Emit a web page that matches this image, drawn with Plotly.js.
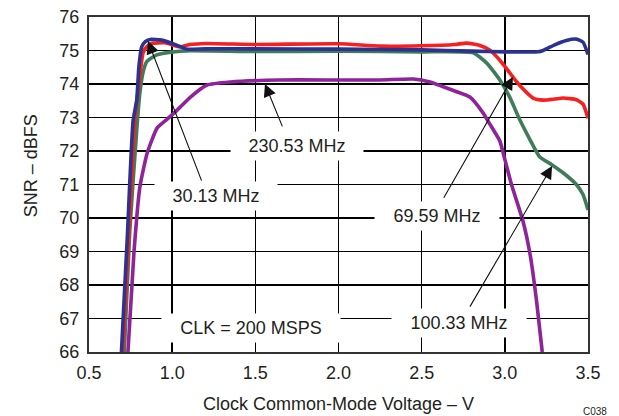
<!DOCTYPE html>
<html>
<head>
<meta charset="utf-8">
<script src="https://cdn.plot.ly/plotly-3.0.1.min.js"></script>
<style>html,body{margin:0;padding:0;background:#fff;}#chart{width:619px;height:416px;}</style>
</head>
<body>
<div id="chart"></div>
<script>
// 30.13 MHz
const blueX = [0.695, 0.73, 0.765, 0.787, 0.80, 0.817, 0.837, 0.867, 0.937, 1.027, 1.087, 1.2, 1.5, 2.0, 2.5, 2.8, 3.0, 3.2, 3.23, 3.3, 3.37, 3.43, 3.47, 3.5];
const blueY = [66, 69.4, 72.9, 73.52, 74.52, 75.11, 75.26, 75.33, 75.31, 75.16, 75.04, 75.05, 75.05, 75.04, 75.02, 74.98, 74.96, 74.96, 75.0, 75.17, 75.3, 75.34, 75.25, 74.88];
// 69.59 MHz
const redX = [0.702, 0.74, 0.775, 0.80, 0.825, 0.847, 0.877, 0.957, 1.047, 1.107, 1.207, 1.5, 2.0, 2.25, 2.5, 2.7, 2.77, 2.85, 2.91, 2.98, 3.05, 3.1, 3.17, 3.23, 3.3, 3.35, 3.43, 3.47, 3.5];
const redY = [66, 69.6, 72.9, 74.0, 74.93, 75.11, 75.21, 75.23, 75.11, 75.18, 75.21, 75.18, 75.2, 75.13, 75.14, 75.18, 75.22, 75.15, 75.01, 74.65, 74.2, 73.9, 73.58, 73.52, 73.55, 73.58, 73.53, 73.4, 72.98];
// 100.33 MHz
const greenX = [0.712, 0.745, 0.787, 0.805, 0.826, 0.847, 0.907, 1.007, 1.087, 1.5, 2.0, 2.5, 2.81, 2.89, 2.97, 3.03, 3.09, 3.15, 3.21, 3.28, 3.35, 3.43, 3.47, 3.5];
const greenY = [66, 69.6, 72.63, 73.7, 74.37, 74.67, 74.87, 74.96, 74.99, 74.97, 74.98, 74.96, 74.93, 74.63, 74.12, 73.6, 72.93, 72.35, 71.82, 71.6, 71.35, 71.0, 70.7, 70.24];
// 230.53 MHz
const purpleX = [0.734, 0.77, 0.806, 0.85, 0.91, 0.97, 1.03, 1.11, 1.21, 1.35, 1.65, 2.0, 2.25, 2.45, 2.55, 2.65, 2.79, 2.87, 2.91, 2.97, 3.0, 3.04, 3.11, 3.153, 3.19, 3.225];
const purpleY = [66, 68.95, 70.93, 71.94, 72.69, 72.95, 73.22, 73.61, 73.97, 74.06, 74.12, 74.12, 74.12, 74.15, 74.06, 73.88, 73.61, 73.13, 72.8, 72.3, 71.75, 71.0, 69.89, 68.88, 67.55, 66];

const xTicks = [0.5, 1.0, 1.5, 2.0, 2.5, 3.0, 3.5];
const yTicks = [66, 67, 68, 69, 70, 71, 72, 73, 74, 75, 76];

const xTitle = 'Clock Common-Mode Voltage – V';
const yTitle = 'SNR – dBFS';

// labels: text, x, y
const labelText = ['230.53 MHz', '30.13 MHz', '69.59 MHz', '100.33 MHz', 'CLK = 200 MSPS'];
const labelX = [1.75, 1.264, 2.592, 2.724, 1.471];
const labelY = [72.15, 70.66, 70.07, 66.86, 66.72];
const labelW = [124, 114, 116, 126, 170];

// arrows: head (x,y) tail (x,y)
const arrowHeadX = [0.855, 1.558, 3.049, 3.284];
const arrowHeadY = [75.28, 74.0, 74.21, 71.55];
const arrowTailX = [1.18, 1.666, 2.628, 2.785];
const arrowTailY = [71.07, 72.69, 70.56, 67.31];

const FONT = 'Liberation Sans, Arial, Helvetica, sans-serif';
const line = (c) => ({color: c, width: 3.6, shape: 'spline', smoothing: 0.5});

const traces = [
  {x: purpleX, y: purpleY, mode: 'lines', name: '230.53 MHz', line: line('#8f2399')},
  {x: greenX, y: greenY, mode: 'lines', name: '100.33 MHz', line: line('#3f7c5a')},
  {x: redX, y: redY, mode: 'lines', name: '69.59 MHz', line: line('#f5201f')},
  {x: blueX, y: blueY, mode: 'lines', name: '30.13 MHz', line: line('#2b3290')}
];

const annotations = [];
for (let i = 0; i < arrowHeadX.length; i++) {
  annotations.push({
    x: arrowHeadX[i], y: arrowHeadY[i], xref: 'x', yref: 'y',
    ax: arrowTailX[i], ay: arrowTailY[i], axref: 'x', ayref: 'y',
    text: '', showarrow: true, arrowhead: 2, arrowsize: 2.3, arrowwidth: 1.1,
    arrowcolor: '#111'
  });
}
for (let i = 0; i < labelText.length; i++) {
  annotations.push({
    x: labelX[i], y: labelY[i], xref: 'x', yref: 'y', text: labelText[i],
    showarrow: false, bgcolor: '#ffffff', borderpad: 4, width: labelW[i],
    font: {family: FONT, size: 18, color: '#231f20'}
  });
}
annotations.push({
  x: -0.14, y: 0.555, xref: 'paper', yref: 'paper', text: yTitle, textangle: -90,
  showarrow: false, font: {family: FONT, size: 18, color: '#231f20'}
});
annotations.push({
  x: 0.986, y: -0.155, xref: 'paper', yref: 'paper', text: 'C038', xanchor: 'left', yanchor: 'top',
  showarrow: false, font: {family: FONT, size: 10, color: '#231f20'}
});

const axisCommon = {
  showgrid: true, gridcolor: '#000', gridwidth: 1.5,
  showline: true, linecolor: '#333', linewidth: 2, mirror: true,
  ticks: 'inside', ticklen: 7, tickcolor: '#000', tickwidth: 1.5,
  zeroline: false, fixedrange: true,
  tickfont: {family: FONT, size: 18, color: '#231f20'}
};

const layout = {
  width: 619, height: 416,
  margin: {l: 89, r: 31, t: 17, b: 64, pad: 0},
  paper_bgcolor: '#fff', plot_bgcolor: '#fff',
  showlegend: false,
  xaxis: Object.assign({}, axisCommon, {
    range: [0.5, 3.5], tickvals: xTicks, ticktext: xTicks.map(v => v.toFixed(1)),
    ticklabelstandoff: 3,
    title: {text: xTitle, font: {family: FONT, size: 18, color: '#231f20'}, standoff: 16}
  }),
  yaxis: Object.assign({}, axisCommon, {
    range: [66, 76], tickvals: yTicks, ticktext: yTicks.map(String),
    ticklabelstandoff: 4, gridwidth: 1.2
  }),
  annotations: annotations
};

Plotly.newPlot('chart', traces, layout, {staticPlot: true, displayModeBar: false});
</script>
</body>
</html>
